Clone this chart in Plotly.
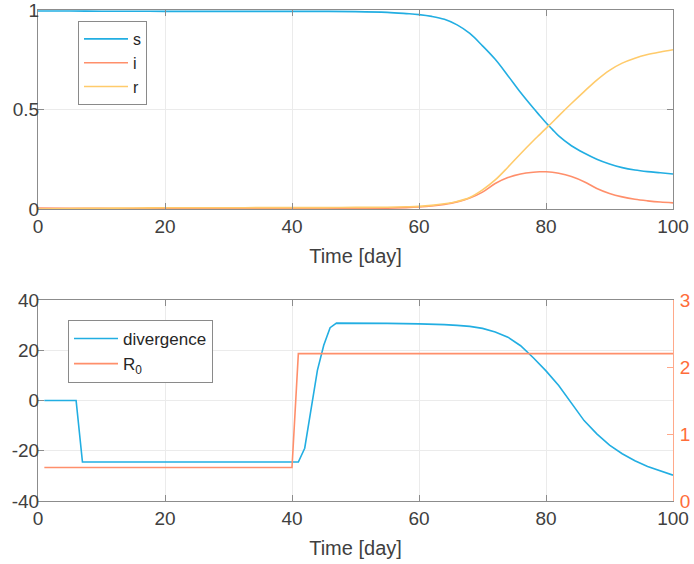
import plotly.graph_objects as go

# ---------------- data ----------------
t_sir = [0, 5, 10, 15, 20, 25, 30, 35, 40, 45, 50, 55, 58, 60, 62, 64, 66, 68, 70,
         72, 74, 76, 78, 79, 80, 81, 82, 84, 86, 88, 90, 92, 94, 96, 98, 100]
s_vals = [0.995, 0.995, 0.994, 0.994, 0.993, 0.993, 0.993, 0.993, 0.993, 0.993, 0.992,
          0.988, 0.982, 0.977, 0.968, 0.953, 0.925, 0.882, 0.82, 0.752, 0.67, 0.585, 0.507,
          0.47, 0.433, 0.40, 0.367, 0.318, 0.281, 0.25, 0.226, 0.208, 0.196, 0.188, 0.182, 0.176]
i_vals = [0.005, 0.004, 0.003, 0.002, 0.0015, 0.001, 0.001, 0.0008, 0.0006, 0.001, 0.002,
          0.004, 0.007, 0.01, 0.015, 0.023, 0.035, 0.055, 0.085, 0.128, 0.158, 0.176, 0.185,
          0.187, 0.187, 0.185, 0.18, 0.163, 0.137, 0.103, 0.078, 0.061, 0.049, 0.041, 0.035, 0.031]
r_vals = [0.0, 0.002, 0.004, 0.005, 0.006, 0.006, 0.006, 0.007, 0.007, 0.007, 0.008,
          0.009, 0.011, 0.013, 0.018, 0.026, 0.038, 0.058, 0.096, 0.146, 0.21, 0.278, 0.343,
          0.374, 0.405, 0.436, 0.468, 0.53, 0.59, 0.648, 0.697, 0.733, 0.758, 0.776, 0.789, 0.80]

t_div = [1, 6, 7, 41, 42, 43, 44, 45, 46, 47, 50, 55, 60, 62, 64, 66, 68, 70, 72, 74,
         76, 78, 80, 82, 84, 86, 88, 90, 92, 94, 96, 98, 100]
div_vals = [0, 0, -24.5, -24.5, -19, -4, 12, 22, 29, 30.8, 30.8, 30.7, 30.5, 30.4, 30.2,
            29.9, 29.5, 28.7, 27.3, 25.2, 21.8, 17.0, 11.8, 6.0, -0.8, -8.0, -13.3, -17.8,
            -21.2, -24.0, -26.3, -28.1, -29.7]

t_r0 = [1, 40, 41, 100]
r0_vals = [0.5, 0.5, 2.2, 2.2]

x_ticks = [0, 20, 40, 60, 80, 100]
y1_ticks = [0, 0.5, 1]
y1_labels = ["0", "0.5", "1"]
y2_ticks = [-40, -20, 0, 20, 40]
y2_labels = ["-40", "-20", "0", "20", "40"]
y3_ticks = [0, 1, 2, 3]

# ---------------- style ----------------
W, H = 694, 564
BLUE = "#22AEE2"
ORANGE = "#FF8F6B"
YELLOW = "#FFCB6B"
RAX = "#FF6D3A"
FRAME = "#8c8c8c"
GRID = "#ebebeb"
FONT = "Liberation Sans, Arial, sans-serif"
TXT = "#404040"

xd = [38 / W, 673 / W]
yd1 = [1 - 209 / H, 1 - 10 / H]
yd2 = [1 - 501 / H, 1 - 300 / H]

fig = go.Figure()
fig.add_trace(go.Scatter(x=t_sir, y=s_vals, name="s", mode="lines",
                         line=dict(color=BLUE, width=1.6, shape="spline", smoothing=1),
                         xaxis="x", yaxis="y"))
fig.add_trace(go.Scatter(x=t_sir, y=i_vals, name="i", mode="lines",
                         line=dict(color=ORANGE, width=1.6, shape="spline", smoothing=1),
                         xaxis="x", yaxis="y"))
fig.add_trace(go.Scatter(x=t_sir, y=r_vals, name="r", mode="lines",
                         line=dict(color=YELLOW, width=1.6, shape="spline", smoothing=1),
                         xaxis="x", yaxis="y"))
fig.add_trace(go.Scatter(x=t_div, y=div_vals, name="divergence", mode="lines",
                         line=dict(color=BLUE, width=1.6), xaxis="x2", yaxis="y2",
                         legend="legend2"))
fig.add_trace(go.Scatter(x=t_r0, y=r0_vals, name="R<sub>0</sub>", mode="lines",
                         line=dict(color=ORANGE, width=1.6), xaxis="x2", yaxis="y3",
                         legend="legend2"))

common = dict(showline=True, linecolor=FRAME, linewidth=1, ticks="inside", ticklen=6,
              tickcolor=FRAME, showgrid=True, gridcolor=GRID, gridwidth=1, zeroline=False,
              automargin=False, ticklabeloverflow="allow",
              tickfont=dict(family=FONT, size=19, color=TXT))
xtitle = dict(text="Time [day]", font=dict(family=FONT, size=20, color=TXT), standoff=13)

fig.update_layout(
    width=W, height=H, margin=dict(l=0, r=0, t=0, b=0),
    paper_bgcolor="white", plot_bgcolor="white",
    font=dict(family=FONT, color=TXT),
    xaxis=dict(domain=xd, anchor="y", range=[0, 100], tickvals=x_ticks, mirror="ticks",
               title=xtitle, **common),
    yaxis=dict(domain=yd1, anchor="x", range=[0, 1], tickvals=y1_ticks, ticktext=y1_labels,
               mirror="ticks", ticklabelstandoff=-6, **common),
    xaxis2=dict(domain=xd, anchor="y2", range=[0, 100], tickvals=x_ticks, mirror="ticks",
                title=xtitle, **common),
    yaxis2=dict(domain=yd2, anchor="x2", range=[-40, 40], tickvals=y2_ticks,
                ticktext=y2_labels, mirror=False, ticklabelstandoff=-6, **common),
    yaxis3=dict(overlaying="y2", side="right", anchor="x2", range=[0, 3], tickvals=y3_ticks,
                showline=True, linecolor="#FFA98A", linewidth=1, ticks="inside", ticklen=6,
                tickcolor="#FFA98A", showgrid=False, zeroline=False, automargin=False,
                ticklabelstandoff=2, ticklabeloverflow="allow",
                tickfont=dict(family=FONT, size=19, color=RAX)),
    legend=dict(x=78 / W, y=1 - 21 / H, xanchor="left", yanchor="top",
                bordercolor="#8a8a8a", borderwidth=1, bgcolor="white", itemwidth=44,
                font=dict(family=FONT, size=16, color="#262626")),
    legend2=dict(x=68 / W, y=1 - 320 / H, xanchor="left", yanchor="top",
                 bordercolor="#8a8a8a", borderwidth=1, bgcolor="white", itemwidth=44,
                 font=dict(family=FONT, size=17, color="#262626")),
    showlegend=True,
)

fig.write_html("out.html", config={"displayModeBar": False},
               post_script="document.body.style.margin='0';document.body.style.overflow='hidden';")
